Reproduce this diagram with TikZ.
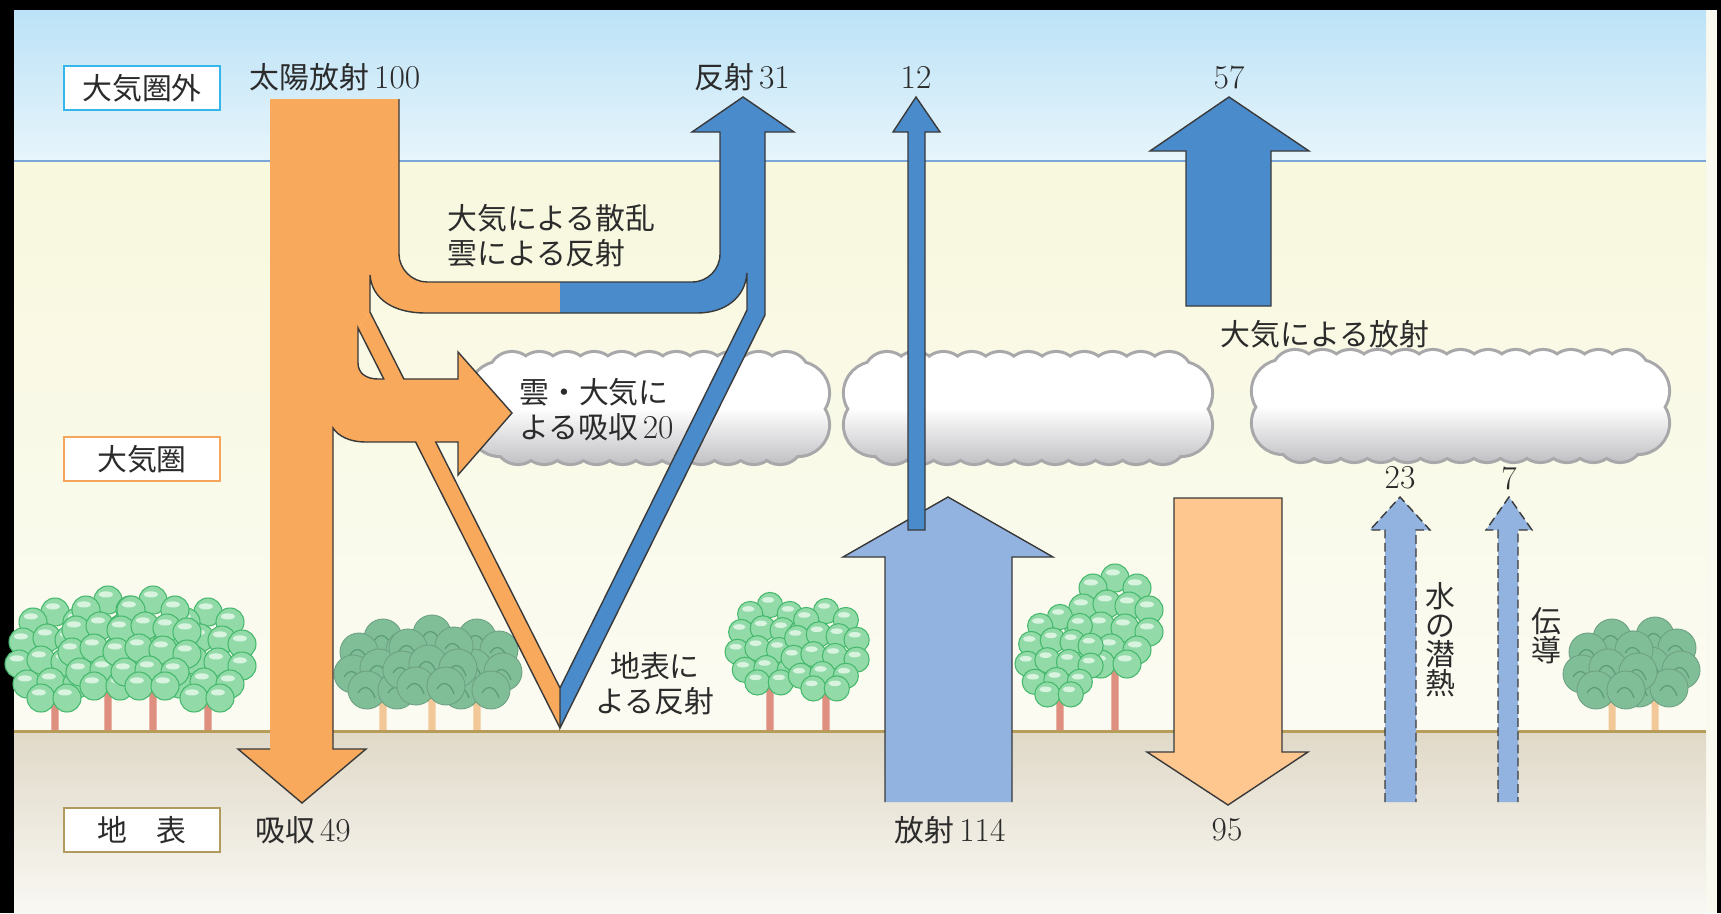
\documentclass[tikz,border=0pt]{standalone}
\usepackage{fontspec}
\newfontfamily\jp{Noto Sans CJK JP}

\definecolor{panel}{HTML}{F9F9F0}
\definecolor{skytop}{HTML}{BCE2F7}
\definecolor{skylow}{HTML}{E7F5FB}
\definecolor{airtop}{HTML}{F8F8DE}
\definecolor{airlow}{HTML}{FBFBF3}
\definecolor{groundtop}{HTML}{E0D9C8}
\definecolor{groundlow}{HTML}{F9F8F3}
\definecolor{groundline}{HTML}{B89D5A}
\definecolor{horizon}{HTML}{7BA7D8}
\definecolor{sun}{HTML}{F9A95B}
\definecolor{refl}{HTML}{4A8BCB}
\definecolor{earth}{HTML}{92B3DF}
\definecolor{backrad}{HTML}{FDC78F}
\definecolor{rimgray}{HTML}{3A3A3A}
\definecolor{ink}{HTML}{2B2B2B}
\definecolor{cloudrim}{HTML}{A8A8AA}
\definecolor{cloudlow}{HTML}{C2C2C6}
\definecolor{leafgreen}{HTML}{92DBA9}
\definecolor{leafedge}{HTML}{45B86C}
\definecolor{leaflight}{HTML}{D8F3DE}
\definecolor{sagegreen}{HTML}{80BE98}
\definecolor{sagedark}{HTML}{5C9C76}
\definecolor{pinkbark}{HTML}{DE8F7F}
\definecolor{tanbark}{HTML}{F3C898}
\definecolor{zoneblue}{HTML}{35B6EA}
\definecolor{zoneorange}{HTML}{F5A65C}
\definecolor{zonetan}{HTML}{B09A5E}

\tikzset{
  lbl/.style={font=\jp\fontsize{17}{20}\selectfont, text=ink, inner sep=0pt},
  zone/.style={lbl, draw, line width=1.2pt, fill=white, minimum width=3.12cm, minimum height=0.88cm},
  rim/.style={draw=rimgray, line width=0.8pt},
  dashrim/.style={draw=rimgray, line width=0.8pt, dash pattern=on 5pt off 2.5pt},
  leafpuff/.style={fill=leafgreen, draw=leafedge, line width=0.6pt},
  sagepuff/.style={fill=sagegreen, draw=sagegreen!85!black, line width=0.5pt},
  cloudline/.style={draw=cloudrim, line width=3.5pt},
  cloudfill/.style={top color=white, bottom color=cloudlow, middle color=white}
}

% numbers are set in the roman face
\newcommand\val[1]{{\rmfamily\fontsize{19}{20}\selectfont #1}}

% one puff of foliage
\newcommand\puff[3]{%
  \filldraw[leafpuff] ({#1},{#2}) circle (#3);
  \fill[leaflight] ({#1-0.15*#3},{#2-0.4*#3}) ellipse ({0.5*#3} and {0.22*#3});
}
\newcommand\sagepuff[2]{%
  \filldraw[sagepuff] ({#1},{#2}) circle (19);
  \draw[sagedark, line width=0.7pt] ({#1-9},{#2+3}) .. controls ({#1-3},{#2-7}) and ({#1+5},{#2-2}) .. ({#1+8},{#2+8});
}

% trunk x, canopy centre y, size
\newcommand\lighttree[3]{%
  \draw[pinkbark, line width=4pt] ({#1},731) -- ({#1},{#2+42*#3}) -- ({#1-10*#3},{#2+18*#3});
  \draw[pinkbark, line width=2.5pt] ({#1},{#2+42*#3}) -- ({#1+10*#3},{#2+18*#3});
  \foreach \dx/\dy in {0/-50,-22/-40,22/-40,-32/-20,-8/-24,14/-22,34/-18,-36/2,-14/-2,10/0,34/4,-28/22,-4/20,22/22,-14/36,12/36}
    {\puff{#1+\dx*#3}{#2+\dy*#3}{14*#3}}%
}
\newcommand\darktree[2]{%
  \draw[tanbark, line width=4pt] ({#1},731) -- ({#1},{#2+42}) -- ({#1-9},{#2+20});
  \draw[tanbark, line width=2.5pt] ({#1},{#2+42}) -- ({#1+9},{#2+20});
  \foreach \dx/\dy in {0/-26,-24/-12,22/-14,-30/10,-4/4,26/8,-16/26,14/26}
    {\sagepuff{#1+\dx}{#2+\dy}}%
}

% cloud: left x, top y, width, bumps
\newcommand\cloudpath[5]{%
  #5 ({#1+30},{#2+40}) circle (30) ({#1+30},{#2+72}) circle (30)
     ({#1+#3-30},{#2+40}) circle (30) ({#1+#3-30},{#2+72}) circle (30)
     ({#1+25},{#2+88}) rectangle ({#1+#3-25},{#2+22})
     \foreach \i in {0,...,#4} {({#1+42+\i*(#3-84)/#4},{#2+22}) circle (22) ({#1+48+\i*(#3-96)/#4},{#2+88}) circle (22)};
}
\newcommand\cloud[4]{%
  \cloudpath{#1}{#2}{#3}{#4}{\draw[cloudline]}
  \cloudpath{#1}{#2}{#3}{#4}{\shade[cloudfill]}
}

\begin{document}
\begin{tikzpicture}[x=0.02cm, y=-0.02cm]
\useasboundingbox (0,0) rectangle (1721,913);
\fill[black] (0,0) rectangle (1721,913);
\fill[panel] (14,10) rectangle (1717,913);

% sky, air and ground
\shade[top color=skytop, bottom color=skylow] (14,10) rectangle (1706,161);
\shade[top color=airtop, bottom color=airlow] (14,161) rectangle (1706,731);
\shade[top color=groundtop, bottom color=groundlow] (14,731) rectangle (1706,913);
\draw[horizon, line width=1.2pt] (14,161) -- (1706,161);

% clouds
\cloud{470}{353}{358}{10}
\cloud{845}{353}{366}{10}
\cloud{1253}{351}{415}{12}

% trees
\foreach \x/\y in {55/662, 208/662, 108/650, 153/650} {\lighttree{\x}{\y}{1}}
\darktree{383}{664}
\darktree{477}{664}
\darktree{432}{660}
\lighttree{770}{650}{0.9}
\lighttree{826}{656}{0.9}
\lighttree{1115}{628}{1}
\lighttree{1060}{662}{0.9}
\darktree{1655}{662}
\darktree{1612}{664}

\draw[groundline, line width=1.7pt] (14,731) -- (1706,731);

% solar radiation 100
\fill[sun] (270,99) -- (399,99) -- (399,254) .. controls (399,269) and (412,282) .. (427,282)
  -- (560,282) -- (560,313) -- (425,313) .. controls (395,313) and (372,300) .. (370,275)
  -- (370,312) -- (358,328) -- (358,363) .. controls (358,373) and (366,379) .. (378,379)
  -- (458,379) -- (458,352) -- (512,413) -- (458,475) -- (458,442)
  -- (365,442) .. controls (350,442) and (338,436) .. (333,428)
  -- (333,749) -- (366,749) -- (302,803) -- (238,749) -- (270,749) -- cycle;
\fill[sun] (370,312) -- (560,688) -- (560,728) -- (358,328) -- cycle;
\draw[rim] (399,99) -- (399,254) .. controls (399,269) and (412,282) .. (427,282) -- (560,282);
\draw[rim] (560,313) -- (425,313) .. controls (395,313) and (372,300) .. (370,275) -- (370,312)
  -- (403.9,379) -- (458,379) -- (458,352) -- (512,413) -- (458,475) -- (458,442)
  -- (435.7,442) -- (560,688);
\draw[rim] (358,328) -- (358,363) .. controls (358,373) and (366,379) .. (378,379) -- (383.8,379) -- cycle;
\draw[rim] (560,728) -- (415.6,442) -- (365,442) .. controls (350,442) and (338,436) .. (333,428)
  -- (333,749) -- (366,749) -- (302,803) -- (238,749) -- (270,749);

% reflected 31
\fill[refl] (560,313) -- (697,313) .. controls (725,313) and (745,298) .. (747,273) -- (747,310)
  -- (560,688) -- (560,728) -- (765,315) -- (765,132) -- (794,132) -- (743,97) -- (692,132)
  -- (720,132) -- (720,254) .. controls (720,269.5) and (707.5,282) .. (692,282) -- (560,282) -- cycle;
\draw[rim] (560,313) -- (697,313) .. controls (725,313) and (745,298) .. (747,273) -- (747,310)
  -- (560,688) -- (560,728) -- (765,315) -- (765,132) -- (794,132) -- (743,97) -- (692,132)
  -- (720,132) -- (720,254) .. controls (720,269.5) and (707.5,282) .. (692,282) -- (560,282);

% ground radiation 114 and window 12
\fill[earth] (885,802) -- (885,557) -- (843,557) -- (948,497) -- (1053,557) -- (1012,557) -- (1012,802) -- cycle;
\draw[rim] (885,802) -- (885,557) -- (843,557) -- (948,497) -- (1053,557) -- (1012,557) -- (1012,802);
\filldraw[refl, rim] (908,530) -- (908,132) -- (893,132) -- (916,97) -- (940,132) -- (925,132) -- (925,530) -- cycle;

% atmosphere 57
\filldraw[refl, rim] (1186,306) -- (1186,151) -- (1150,151) -- (1229,97) -- (1309,151) -- (1271,151) -- (1271,306) -- cycle;

% back radiation 95
\filldraw[backrad, rim] (1174,498) -- (1282,498) -- (1282,752) -- (1308,752) -- (1228,805) -- (1147,752) -- (1174,752) -- cycle;

% latent heat 23, conduction 7
\fill[earth] (1385,802) -- (1385,530) -- (1370,530) -- (1400,497) -- (1430,530) -- (1416,530) -- (1416,802) -- cycle;
\draw[dashrim] (1385,802) -- (1385,530) -- (1370,530) -- (1400,497) -- (1430,530) -- (1416,530) -- (1416,802);
\fill[earth] (1498,802) -- (1498,530) -- (1486,530) -- (1509,497) -- (1532,530) -- (1518,530) -- (1518,802) -- cycle;
\draw[dashrim] (1498,802) -- (1498,530) -- (1486,530) -- (1509,497) -- (1532,530) -- (1518,530) -- (1518,802);

% zone labels
\node[zone, draw=zoneblue] (space) at (142,88) {大気圏外};
\node[zone, draw=zoneorange] (air) at (142,459) {大気圏};
\node[zone, draw=zonetan] (surface) at (142,830) {地　表};

% flow labels
\node[lbl] (sunin) at (335,77) {太陽放射\,\val{100}};
\node[lbl] (reflout) at (742,77) {反射\,\val{31}};
\node[lbl] (winout) at (916,77) {\val{12}};
\node[lbl] (airout) at (1229,77) {\val{57}};
\node[lbl, align=left, anchor=west] (scatter) at (447,236) {大気による散乱\\雲による反射};
\node[lbl, align=left, anchor=west] (absorb) at (519,410) {雲・大気に\\よる吸収\,\val{20}};
\node[lbl] (airemit) at (1325,334) {大気による放射};
\node[lbl, align=center] (groundrefl) at (655,684) {地表に\\よる反射};
\node[lbl] (absorbed) at (303,830) {吸収\,\val{49}};
\node[lbl] (emit) at (950,830) {放射\,\val{114}};
\node[lbl] (backval) at (1227,830) {\val{95}};
\node[lbl] (latentval) at (1400,478) {\val{23}};
\node[lbl] (condval) at (1509,478) {\val{7}};
\node[lbl, align=center, font=\jp\fontsize{17}{16.5}\selectfont] (latent) at (1440,640) {水\\の\\潜\\熱};
\node[lbl, align=center, font=\jp\fontsize{17}{16.5}\selectfont] (conduct) at (1546,636) {伝\\導};
\end{tikzpicture}
\end{document}
